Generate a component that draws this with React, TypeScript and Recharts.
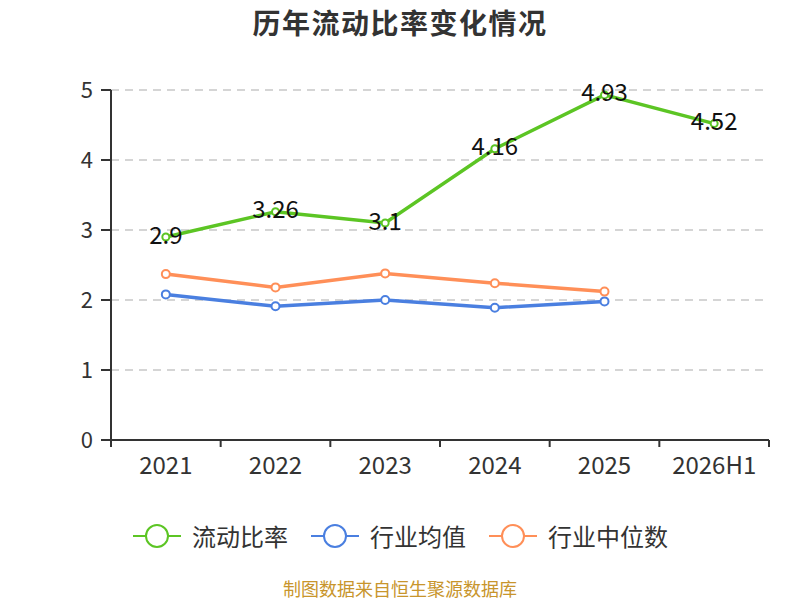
import { CartesianGrid, LabelList, Line, LineChart, XAxis, YAxis } from 'recharts';

const years = ['2021', '2022', '2023', '2024', '2025', '2026H1'];
const currentRatio = [2.9, 3.26, 3.1, 4.16, 4.93, 4.52];
const industryMean = [2.08, 1.91, 2.0, 1.89, 1.98, null];
const industryMedian = [2.37, 2.18, 2.38, 2.24, 2.12, null];
const yTicks = [0, 1, 2, 3, 4, 5];

const data = years.map((year, i) => ({
  year,
  ratio: currentRatio[i],
  mean: industryMean[i],
  median: industryMedian[i],
}));

const FONT = '"Noto Sans CJK SC", "Noto Sans", sans-serif';
const GREEN = '#5cc524';
const BLUE = '#4a7fe0';
const ORANGE = '#ff8f58';

const W = 800;
const H = 600;
const MARGIN = { top: 90, right: 31, left: 51, bottom: 130 };
const Y_AXIS_W = 60;
const PLOT_W = W - MARGIN.left - Y_AXIS_W - MARGIN.right;
const BAND = PLOT_W / years.length;

// category ticks sit between the bands, labels stay centred
const XTick = (props: any) => {
  const { x, y, payload, index } = props;
  const left = x - BAND / 2;
  return (
    <g>
      <line x1={left} y1={y - 8} x2={left} y2={y - 1} stroke="#333" strokeWidth={2} />
      {index === years.length - 1 && (
        <line x1={left + BAND} y1={y - 8} x2={left + BAND} y2={y - 1} stroke="#333" strokeWidth={2} />
      )}
      <text x={x} y={y + 25.5} textAnchor="middle" fill="#333" fontSize={24} fontFamily={FONT}>
        {payload.value}
      </text>
    </g>
  );
};

const legendItems = [
  { name: '流动比率', color: GREEN },
  { name: '行业均值', color: BLUE },
  { name: '行业中位数', color: ORANGE },
];

const LegendIcon = ({ color }: { color: string }) => (
  <svg width={50} height={26} style={{ display: 'block' }}>
    <line x1={1} y1={13} x2={49} y2={13} stroke={color} strokeWidth={2} />
    <circle cx={25} cy={13} r={11} fill="#fff" stroke={color} strokeWidth={2} />
  </svg>
);

export default function App() {
  return (
    <div style={{ position: 'absolute', left: 0, top: 0, width: W, height: H, background: '#fff', fontFamily: FONT }}>
      <div
        style={{
          position: 'absolute',
          top: 2,
          width: W,
          textAlign: 'center',
          fontSize: 28,
          letterSpacing: 1.5,
          fontWeight: 'bold',
          color: '#333',
        }}
      >
        历年流动比率变化情况
      </div>
      <LineChart width={W} height={H} data={data} margin={MARGIN}>
        <CartesianGrid vertical={false} stroke="#c8c8c8" strokeDasharray="8 6" strokeWidth={1.5} />
        <XAxis
          dataKey="year"
          scale="band"
          stroke="#333"
          strokeWidth={2}
          tickLine={false}
          tick={<XTick />}
          interval={0}
          height={30}
        />
        <YAxis
          domain={[0, 5]}
          ticks={yTicks}
          width={Y_AXIS_W}
          stroke="#333"
          strokeWidth={2}
          tickSize={10}
          tickMargin={8}
          tick={{ fill: '#333', fontSize: 22, fontFamily: FONT }}
        />
        <Line
          dataKey="ratio"
          stroke={GREEN}
          strokeWidth={3.5}
          dot={{ r: 3.5, fill: '#fff', stroke: GREEN, strokeWidth: 2 }}
          isAnimationActive={false}
        >
          <LabelList dataKey="ratio" position="center" dy={-2} fill="#111" fontSize={24} fontFamily={FONT} />
        </Line>
        <Line
          dataKey="mean"
          stroke={BLUE}
          strokeWidth={3.5}
          dot={{ r: 4, fill: '#fff', stroke: BLUE, strokeWidth: 2 }}
          isAnimationActive={false}
        />
        <Line
          dataKey="median"
          stroke={ORANGE}
          strokeWidth={3.5}
          dot={{ r: 4, fill: '#fff', stroke: ORANGE, strokeWidth: 2 }}
          isAnimationActive={false}
        />
      </LineChart>
      <div
        style={{
          position: 'absolute',
          top: 519,
          left: 0,
          width: W,
          display: 'flex',
          justifyContent: 'center',
          gap: 22,
          fontSize: 24,
          color: '#333',
        }}
      >
        {legendItems.map((item) => (
          <div key={item.name} style={{ display: 'flex', alignItems: 'center', gap: 10, lineHeight: '34px' }}>
            <LegendIcon color={item.color} />
            <span>{item.name}</span>
          </div>
        ))}
      </div>
      <div
        style={{
          position: 'absolute',
          top: 578,
          width: W,
          textAlign: 'center',
          fontSize: 18,
          lineHeight: '21px',
          color: '#c8952c',
        }}
      >
        制图数据来自恒生聚源数据库
      </div>
    </div>
  );
}
